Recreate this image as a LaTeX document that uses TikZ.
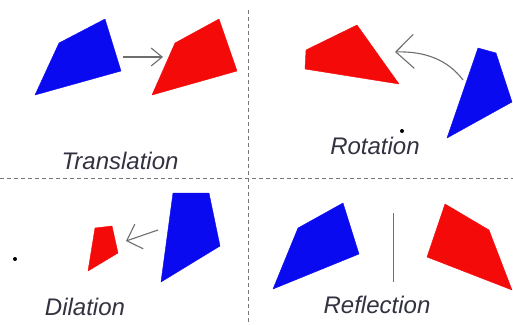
\documentclass[tikz,border=0pt]{standalone}
\usepackage{fontspec}
\setmainfont{Liberation Sans}
\usepackage{xcolor}
\definecolor{shapeblue}{RGB}{10,10,240}
\definecolor{shapered}{RGB}{245,10,10}
\definecolor{arrowgrey}{RGB}{110,110,110}
\definecolor{dashgrey}{RGB}{120,120,120}
\definecolor{labelgrey}{RGB}{50,50,64}
\usetikzlibrary{arrows.meta,positioning}
\tikzset{
  blueshape/.style={fill=shapeblue,draw=shapeblue,line join=round},
  redshape/.style={fill=shapered,draw=shapered,line join=round},
  arr/.style={draw=arrowgrey,line width=1.1pt},
  divider/.style={draw=dashgrey,line width=1pt,dash pattern=on 4pt off 3pt},
  lab/.style={inner sep=0pt,font=\fontsize{24}{27}\selectfont\itshape,text=labelgrey},
}

\begin{document}
\begin{tikzpicture}[x=1pt,y=-1pt]
    \useasboundingbox (0,0) rectangle (513,324);
    % quadrant dividers
    \coordinate (vtop) at (248,10);
    \coordinate (vbot) at (248,324);
    \coordinate (hleft) at (0,178);
    \coordinate (hright) at (513,178);
    \draw[divider] (vtop) -- (vbot);
    \draw[divider] (hleft) -- (hright);

    % translation
    \fill[blueshape] (35,95) -- (59,43) -- (105,19) -- (121,71) -- cycle;
    \fill[redshape] (152,95) -- (175,43) -- (219,19) -- (237,71) -- cycle;
    \coordinate (tstart) at (123,57);
    \coordinate (tend) at (163,57);
    \draw[arr,-{Straight Barb[length=11pt,width=18pt]}] (tstart) -- (tend);
    \node[lab] (trans) at (120,161) {Translation};

    % rotation
    \fill[redshape] (306,50) -- (357,25) -- (399,84) -- (305,69) -- cycle;
    \fill[blueshape] (478,48) -- (496,53) -- (512,102) -- (447,138) -- cycle;
    \coordinate (rstart) at (463,80);
    \coordinate (rend) at (395,52);
    \draw[arr,-{Straight Barb[length=18pt,width=34pt]}] (rstart) .. controls (448,60) and (425,51) .. (rend);
    \fill[black] (402,131) circle (2pt);
    \node[lab] (rot) at (375,146) {Rotation};

    % dilation
    \fill[blueshape] (173,193) -- (209,193) -- (220,246) -- (161,282) -- cycle;
    \fill[redshape] (95,228) -- (112,226) -- (118,253) -- (88,271) -- cycle;
    \coordinate (dstart) at (158,230);
    \coordinate (dend) at (126,241);
    \draw[arr,-{Straight Barb[length=13pt,width=26pt]}] (dstart) -- (dend);
    \fill[black] (15,259) circle (2pt);
    \node[lab] (dil) at (85,307) {Dilation};

    % reflection
    \fill[blueshape] (273,289) -- (298,228) -- (343,203) -- (359,254) -- cycle;
    \fill[redshape] (445,204) -- (489,230) -- (512,290) -- (427,257) -- cycle;
    \coordinate (mtop) at (393,213);
    \coordinate (mbot) at (393,282);
    \draw[arr,line width=0.9pt] (mtop) -- (mbot);
    \node[lab] (refl) at (377,305) {Reflection};
\end{tikzpicture}
\end{document}
